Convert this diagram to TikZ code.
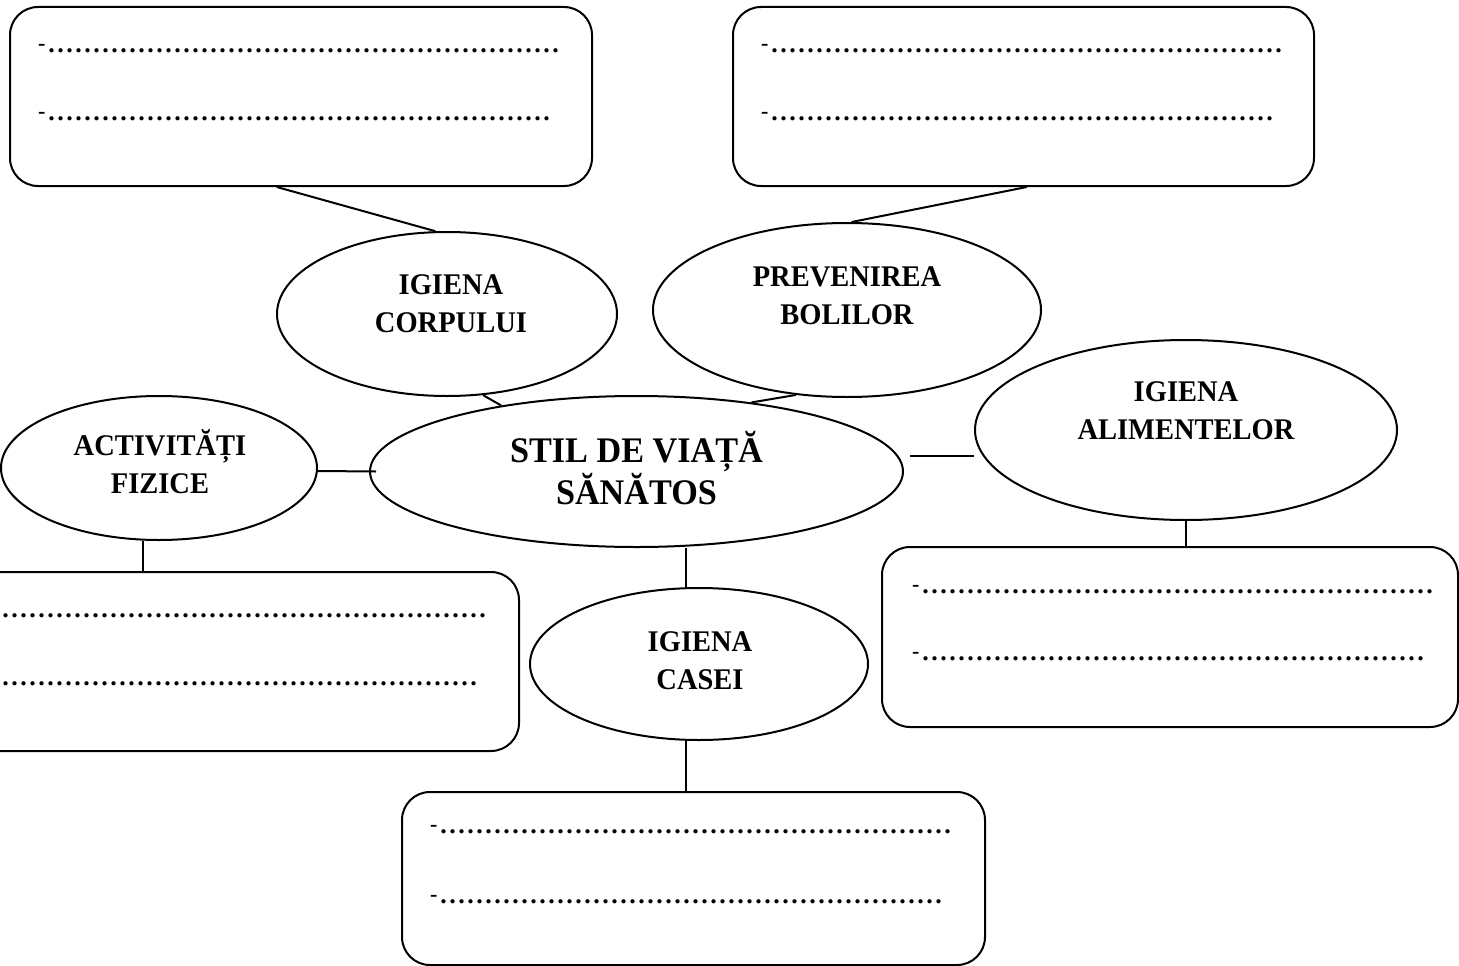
\documentclass[tikz,border=0pt]{standalone}
\usepackage{fontspec}
\setmainfont{Liberation Serif}
\newfontfamily\lblfont{Liberation Serif}[FakeStretch=0.95]
\usetikzlibrary{shapes.geometric}
\newcommand\mydots[1]{\foreach \i in {1,...,#1}{\makebox[9pt][l]{.}}}
\newcommand\hy{{\fontsize{22}{22}\selectfont\raisebox{2pt}{-}}\hspace{3pt}}
\newcommand\lab[1]{\parbox[b]{520pt}{\centering\lineskiplimit=-\maxdimen #1}}
\begin{document}
\begin{tikzpicture}[x=1pt,y=-1pt,line width=2pt,
  oval/.style={draw,ellipse,inner sep=0pt},
  card/.style={draw,rectangle,rounded corners=28pt,inner sep=0pt},
  lbl/.style={inner sep=0pt,anchor=base,font={\lblfont\bfseries\fontsize{30}{37.5}\selectfont}},
  biglbl/.style={inner sep=0pt,anchor=base,font={\lblfont\bfseries\fontsize{36}{42}\selectfont}},
  dotrow/.style={inner sep=0pt,anchor=base west,font={\bfseries\fontsize{26}{26}\selectfont}},
  link/.style={draw,line width=2pt}]
\useasboundingbox (0,0) rectangle (1459,966);
\clip (0,0) rectangle (1459,966);
% boxes
\node[card,minimum width=582pt,minimum height=179pt] (bTL) at (301,96.5) {};
\node[card,minimum width=581pt,minimum height=179pt] (bTR) at (1023.5,96.5) {};
\node[card,minimum width=582pt,minimum height=179pt] (bML) at (228,661.5) {};
\node[card,minimum width=576pt,minimum height=180pt] (bMR) at (1170,637) {};
\node[card,minimum width=583pt,minimum height=173pt] (bB) at (693.5,878.5) {};
% dotted rows
\node[dotrow] (dTL1) at ([xshift=28pt,yshift=-47pt]bTL.north west) {\hy\mydots{57}};
\node[dotrow] (dTL2) at ([xshift=28pt,yshift=-115pt]bTL.north west) {\hy\mydots{56}};
\node[dotrow] (dTR1) at ([xshift=28pt,yshift=-47pt]bTR.north west) {\hy\mydots{57}};
\node[dotrow] (dTR2) at ([xshift=28pt,yshift=-115pt]bTR.north west) {\hy\mydots{56}};
\node[dotrow] (dML1) at ([xshift=28pt,yshift=-46pt]bML.north west) {\hy\mydots{57}};
\node[dotrow] (dML2) at ([xshift=28pt,yshift=-114pt]bML.north west) {\hy\mydots{56}};
\node[dotrow] (dMR1) at ([xshift=30pt,yshift=-47pt]bMR.north west) {\hy\mydots{57}};
\node[dotrow] (dMR2) at ([xshift=30pt,yshift=-114pt]bMR.north west) {\hy\mydots{56}};
\node[dotrow] (dB1) at ([xshift=28pt,yshift=-42pt]bB.north west) {\hy\mydots{57}};
\node[dotrow] (dB2) at ([xshift=28pt,yshift=-112pt]bB.north west) {\hy\mydots{56}};
% ellipses
\node[oval,minimum width=340pt,minimum height=164pt] (eC) at (447,314) {};
\node[oval,minimum width=388pt,minimum height=174pt] (eP) at (847,310) {};
\node[oval,minimum width=533pt,minimum height=151pt] (eS) at (636.5,471.5) {};
\node[oval,minimum width=316pt,minimum height=144pt] (eA) at (159,468) {};
\node[oval,minimum width=422pt,minimum height=180pt] (eAl) at (1186,430) {};
\node[oval,minimum width=338pt,minimum height=152pt] (eH) at (699,664) {};
% labels
\node[lbl] (tC) at (451,332) {\lab{IGIENA\\CORPULUI}};
\node[lbl] (tP) at (847,324) {\lab{PREVENIREA\\BOLILOR}};
\node[lbl] (tA) at (160,493) {\lab{ACTIVITĂȚI\\FIZICE}};
\node[lbl] (tAl) at (1186,439) {\lab{IGIENA\\ALIMENTELOR}};
\node[lbl] (tH) at (700,689) {\lab{IGIENA\\CASEI}};
\node[biglbl] (tS) at (636.5,504) {\lab{STIL DE VIAȚĂ\\SĂNĂTOS}};
% connectors
\draw[link] (bTL.255) -- (eC.98);
\draw[link] (bTR.272) -- (eP.87);
\draw[link] (eC.294) -- (eS.154);
\draw[link] (eP.239) -- (eS.31);
\draw[link] ([yshift=-3pt]eA.east) -- ([xshift=7pt]eS.west);
\draw[link] ([xshift=6pt,yshift=15.5pt]eS.east) -- ([yshift=-26pt]eAl.west);
\draw[link] ([xshift=-16pt]eA.south) -- ([xshift=-16pt]eA.south |- bML.north);
\draw[link] ([xshift=49.5pt]eS.south) -- ([xshift=49.5pt]eS.south |- eH.north);
\draw[link] (eAl.south) -- (eAl.south |- bMR.north);
\draw[link] ([xshift=-13pt]eH.south) -- ([xshift=-13pt]eH.south |- bB.north);
\end{tikzpicture}
\end{document}
